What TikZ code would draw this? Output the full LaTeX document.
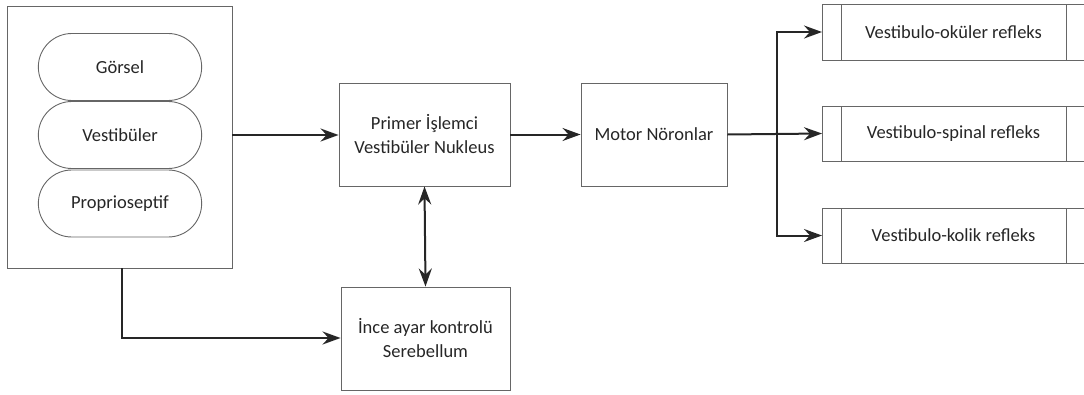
\documentclass[tikz,border=0pt]{standalone}
\usepackage{fontspec}
\setmainfont{Carlito}
\usetikzlibrary{arrows.meta,shapes.misc}
\begin{document}
\begin{tikzpicture}[x=1pt,y=-1pt,
  txt/.style={font=\fontsize{18.5}{24}\selectfont,text=black!85},
  box/.style={draw=black!60,line width=0.9pt,rectangle,align=center,txt},
  pill/.style={draw=black!60,line width=0.9pt,rounded rectangle,minimum width=170pt,minimum height=67pt,txt},
  conn/.style={draw=black!85,line width=2pt,-{Stealth[length=18pt,width=13pt,inset=6pt]}},
  dconn/.style={draw=black!85,line width=2pt,{Stealth[length=18pt,width=13pt,inset=6pt]}-{Stealth[length=18pt,width=13pt,inset=6pt]}}]
\useasboundingbox (0,0) rectangle (1084,394);
\node[box,minimum width=225pt,minimum height=262pt] (src) at (119.5,137) {};
\node[pill] (gor) at (120,67) {Görsel};
\node[pill] (ves) at (120,135) {Vestibüler};
\node[pill] (pro) at (120,203.5) {Proprioseptif};
\node[box,minimum width=171pt,minimum height=103pt] (pri) at (424.5,134.5) {Primer İşlemci\\Vestibüler Nukleus};
\node[box,minimum width=146pt,minimum height=103pt] (mot) at (654,134.5) {Motor Nöronlar};
\node[box,minimum width=169pt,minimum height=103pt] (ser) at (425.5,338.5) {İnce ayar kontrolü\\Serebellum};
% reflex boxes (extend past right edge)
\foreach \n/\t/\yt/\yb in {voc/Vestibulo-oküler refleks/4/60, vsp/Vestibulo-spinal refleks/106/161, vko/Vestibulo-kolik refleks/208/263}{
  \draw[draw=black!60,line width=0.9pt] (1090,\yt) -- (822,\yt) -- (822,\yb) -- (1090,\yb);
  \draw[draw=black!60,line width=0.7pt] (841,\yt) -- (841,\yb) (1066,\yt) -- (1066,\yb);
  \node[txt,inner sep=0pt] (\n) at (953.5,{(\yt+\yb)/2}) {\t};
  \coordinate (\n w) at (822,{(\yt+\yb)/2});
}
\coordinate (split) at (777,134.5);
\coordinate (bend) at (122,338);
\draw[conn] (src.east |- ves) -- (pri.west |- ves);
\draw[conn] (pri.east) -- (mot.west);
\draw[conn] (mot.east) -- (vspw);
\draw[conn] (split) |- (vocw);
\draw[conn] (split) |- (vkow);
\draw[dconn] (pri.south) -- (ser.north);
\draw[conn] (src.south -| bend) -- (bend) -- (ser.west |- bend);
\end{tikzpicture}
\end{document}
